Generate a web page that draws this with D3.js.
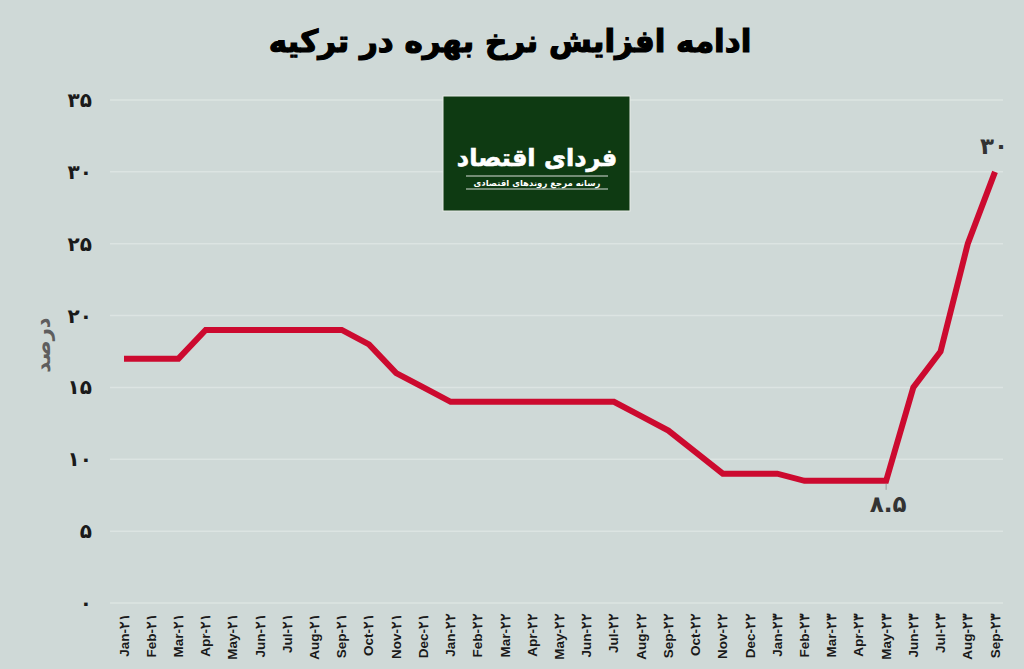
<!DOCTYPE html>
<html><head><meta charset="utf-8">
<script src="https://cdn.jsdelivr.net/npm/d3@7/dist/d3.min.js"></script>
<style>
html,body{margin:0;padding:0;background:#cfd9d7;}
svg{display:block;}
</style></head>
<body>
<svg id="c" width="1024" height="669"></svg>
<script>
const title = "ادامه افزایش نرخ بهره در ترکیه";
const yTitle = "درصد";
const categories = [
 "Jan-۲۱","Feb-۲۱","Mar-۲۱","Apr-۲۱","May-۲۱","Jun-۲۱","Jul-۲۱","Aug-۲۱","Sep-۲۱","Oct-۲۱","Nov-۲۱","Dec-۲۱",
 "Jan-۲۲","Feb-۲۲","Mar-۲۲","Apr-۲۲","May-۲۲","Jun-۲۲","Jul-۲۲","Aug-۲۲","Sep-۲۲","Oct-۲۲","Nov-۲۲","Dec-۲۲",
 "Jan-۲۳","Feb-۲۳","Mar-۲۳","Apr-۲۳","May-۲۳","Jun-۲۳","Jul-۲۳","Aug-۲۳","Sep-۲۳"];
const rates = [17,17,17,19,19,19,19,19,19,18,16,15,
               14,14,14,14,14,14,14,13,12,10.5,9,9,
               9,8.5,8.5,8.5,8.5,15,17.5,25,30];
const yTicks = [0,5,10,15,20,25,30,35];
const yTickLabels = ["۰","۵","۱۰","۱۵","۲۰","۲۵","۳۰","۳۵"];
const annotations = [{cat:"May-۲۳", value:8.5, text:"۸.۵", pos:"below"},
                     {cat:"Sep-۲۳", value:30, text:"۳۰", pos:"above"}];
const logoTitle = "فردای اقتصاد";
const logoSub = "رسانه مرجع روندهای اقتصادی";

const svg = d3.select("#c");
const fa = "'DejaVu Sans', sans-serif";
const x = d3.scalePoint().domain(categories).range([124, 995]);
const y = d3.scaleLinear().domain([0,35]).range([603,100]);

// gridlines
svg.append("g").selectAll("line").data(yTicks).join("line")
  .attr("x1",110).attr("x2",1003)
  .attr("y1",d=>y(d)).attr("y2",d=>y(d))
  .attr("stroke","#dce4e2").attr("stroke-width",1.5);

// y tick labels
svg.append("g").selectAll("text").data(yTicks).join("text")
  .attr("x",92).attr("y",d=>y(d)).attr("dy","0.35em")
  .attr("text-anchor","end")
  .attr("font-family",fa).attr("font-weight","bold").attr("font-size",20)
  .attr("fill","#1a1a1a")
  .text((d,i)=>yTickLabels[i]);

// y title
svg.append("text")
  .attr("transform","translate(50,345) rotate(-90)")
  .attr("text-anchor","middle")
  .attr("font-family",fa).attr("font-weight","bold").attr("font-size",21)
  .attr("fill","#5e5e5e")
  .text(yTitle);

// x labels
svg.append("g").selectAll("text").data(categories).join("text")
  .attr("transform",d=>`translate(${x(d)+4.5},613) rotate(-90)`)
  .attr("text-anchor","end")
  .attr("font-family","'Liberation Sans', Arial, sans-serif").attr("font-weight","bold").attr("font-size",13.5)
  .attr("fill","#1a1a1a")
  .text(d=>d);

// line
const line = d3.line().x((d,i)=>x(categories[i])).y(d=>y(d));
svg.append("path").datum(rates)
  .attr("d",line).attr("fill","none")
  .attr("stroke","#cc0a2f").attr("stroke-width",6)
  .attr("stroke-linejoin","miter").attr("stroke-linecap","butt");

// annotations
annotations.forEach(a=>{
  const ax = x(a.cat), ay = y(a.value);
  if(a.pos==="below"){
    svg.append("line").attr("x1",ax).attr("x2",ax).attr("y1",ay+3).attr("y2",ay+9)
      .attr("stroke","#9a9a9a").attr("stroke-width",1);
  }
  svg.append("text")
    .attr("x", a.pos==="below"? ax+2 : ax-1)
    .attr("y", a.pos==="below"? ay+31 : ay-18)
    .attr("text-anchor","middle")
    .attr("font-family",fa).attr("font-weight","bold").attr("font-size",23)
    .attr("fill","#333333")
    .text(a.text);
});

// title
svg.append("text")
  .attr("x",510).attr("y",52)
  .attr("text-anchor","middle")
  .attr("font-family",fa).attr("font-weight","bold").attr("font-size",31)
  .attr("fill","#000").attr("stroke","#000").attr("stroke-width",1.2)
  .text(title);

// logo
const lg = svg.append("g");
lg.append("rect").attr("x",443).attr("y",96).attr("width",187).attr("height",115)
  .attr("fill","#0e3a12").attr("stroke","#e8ece8").attr("stroke-width",1);
lg.append("text").attr("x",537).attr("y",166).attr("text-anchor","middle")
  .attr("font-family",fa).attr("font-weight","bold").attr("font-size",24)
  .attr("fill","#fff").attr("stroke","#fff").attr("stroke-width",0.6).text(logoTitle);
lg.append("line").attr("x1",466).attr("x2",608).attr("y1",176).attr("y2",176)
  .attr("stroke","#d8ddd8").attr("stroke-width",1);
lg.append("line").attr("x1",466).attr("x2",608).attr("y1",189).attr("y2",189)
  .attr("stroke","#d8ddd8").attr("stroke-width",1);
lg.append("text").attr("x",537).attr("y",186).attr("text-anchor","middle")
  .attr("font-family",fa).attr("font-weight","bold").attr("font-size",8.5)
  .attr("fill","#fff").text(logoSub);
</script>
</body></html>
